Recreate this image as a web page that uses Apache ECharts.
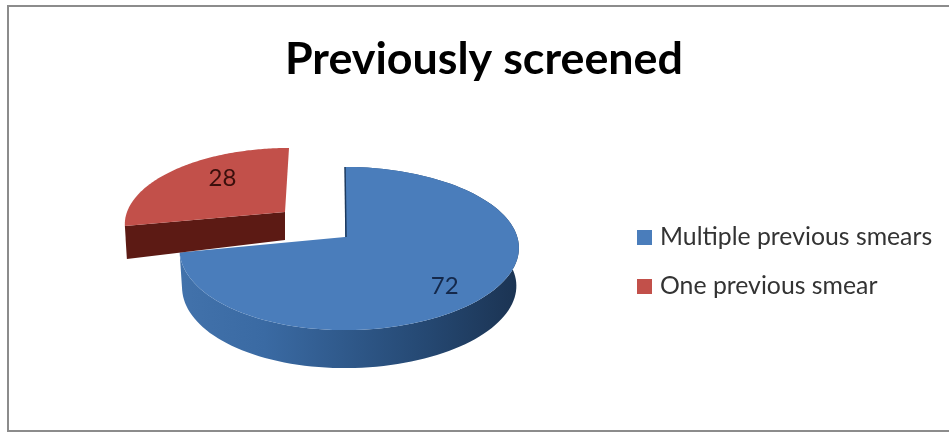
<!DOCTYPE html>
<html>
<head>
<meta charset="utf-8">
<style>html,body{margin:0;padding:0;background:#fff}#c{width:949px;height:433px}</style>
<script src="https://cdn.jsdelivr.net/npm/echarts@6/dist/echarts.min.js"></script>
</head>
<body>
<div id="c"></div>
<script>
const titleText = 'Previously screened';
const categories = ['Multiple previous smears', 'One previous smear'];
const values = [72, 28];

const total = values.reduce((a, b) => a + b, 0);
const FONT = 'Lato, "Open Sans", sans-serif';

const layouts = [
  { ax: 345, ay: 237, R: 168, Ry: 80, p: 0.141, bulge: 4.3, shear: 0, depth: 38, narrow: 0.985,
    face: '#4a7dbb', edge: '#1d3a5e', labelR: 0.72, labelX: 0, labelY: 10, labelColor: '#14284a',
    wall: [[0, '#1b3352'], [0.3, '#264a75'], [0.75, '#3a6aa3'], [1, '#4272ab']] },
  { ax: 285, ay: 212, R: 158, Ry: 73, p: 0.14, bulge: 0, shear: 4, depth: 29, wallLean: 2, narrow: 1,
    face: '#c2504a', edge: '#5c1a14', labelR: 0.56, labelX: 1, labelY: -9, labelColor: '#3a0f0c' }
];

function project(L, theta, r) {
  const u = Math.sin(theta) * r, v = Math.cos(theta) * r;
  const w = 1 + L.p * v;
  return [
    L.ax + L.R * u / w + (r === 1 ? L.bulge * (1 - v * v) : 0) + L.shear * v,
    L.ay - L.Ry * v / w
  ];
}

function rimPoints(L, a0, a1) {
  const pts = [], n = 120;
  for (let i = 0; i <= n; i++) pts.push(project(L, a0 + (a1 - a0) * i / n, 1));
  return pts;
}

function renderSlice(idx) {
  return function (params, api) {
    const L = layouts[idx];
    const before = values.slice(0, idx).reduce((a, b) => a + b, 0);
    const a0 = before / total * 2 * Math.PI;
    const a1 = (before + api.value(0)) / total * 2 * Math.PI;
    const rim = rimPoints(L, a0, a1);
    const apex = [L.ax, L.ay];
    const children = [];
    if (L.wall) {
      const cx = L.ax + L.bulge;
      const lower = rim.map(p => [cx + (p[0] - cx) * L.narrow, p[1] + L.depth]).reverse();
      children.push({
        type: 'polygon', shape: { points: rim.concat(lower) },
        style: { fill: new echarts.graphic.LinearGradient(1, 0, 0, 0,
          L.wall.map(s => ({ offset: s[0], color: s[1] }))) }
      });
    } else {
      const first = rim[0];
      children.push({
        type: 'polygon',
        shape: { points: [apex, first, [first[0] + L.wallLean, first[1] + L.depth + 4], [apex[0], apex[1] + L.depth - 1]] },
        style: { fill: L.edge }
      });
    }
    children.push({
      type: 'polygon', shape: { points: [apex].concat(rim) },
      style: { fill: L.face }
    });
    if (L.wall) {
      children.push({
        type: 'polyline', shape: { points: [rim[0], [apex[0] + 1, apex[1]]] },
        style: { stroke: L.edge, lineWidth: 1.5, fill: null }
      });
    }
    const mid = (a0 + a1) / 2;
    const lp = project(L, mid, L.labelR);
    children.push({
      type: 'text',
      style: {
        x: lp[0] + L.labelX, y: lp[1] + L.labelY, text: String(api.value(0)),
        fill: L.labelColor, font: '24px ' + FONT, align: 'center', verticalAlign: 'middle'
      }
    });
    return { type: 'group', children };
  };
}

const chart = echarts.init(document.getElementById('c'), null, { renderer: 'canvas' });
chart.setOption({
  animation: false,
  backgroundColor: '#ffffff',
  title: {
    text: titleText, left: 280, top: 32,
    textStyle: { fontFamily: FONT, fontSize: 44.8, fontWeight: 'bold', color: '#000000' }
  },
  legend: {
    orient: 'vertical', left: 632, top: 220,
    itemWidth: 15, itemHeight: 15, itemGap: 24, icon: 'rect',
    data: categories,
    textStyle: { fontFamily: FONT, fontSize: 24.8, color: '#333333', padding: [0, 0, 0, 3] }
  },
  graphic: [{
    type: 'rect', silent: true, z: -1,
    shape: { x: 8, y: 6, width: 960, height: 425 },
    style: { fill: '#ffffff', stroke: '#8c8c8c', lineWidth: 2 }
  }],
  series: categories.map((name, i) => ({
    type: 'custom', name, coordinateSystem: 'none',
    itemStyle: { color: layouts[i].face },
    renderItem: renderSlice(i),
    data: [[values[i]]],
    z: 2 + i
  }))
});
</script>
</body>
</html>
